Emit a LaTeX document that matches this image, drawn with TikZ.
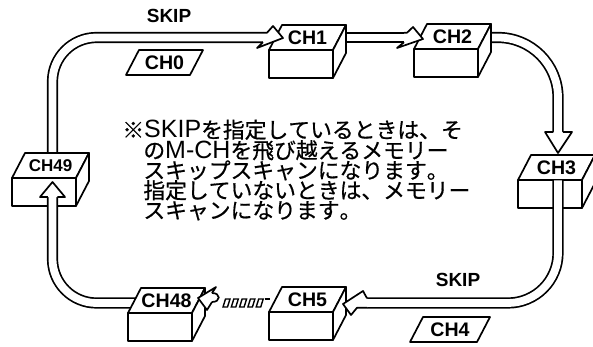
\documentclass[tikz,border=0pt]{standalone}
\usepackage{fontspec}
\newfontfamily\jpfont[FakeBold=0.6,Kerning=Off]{Noto Sans CJK JP}
\newfontfamily\lblfont{Liberation Sans}
\newcommand{\lat}[1]{{\lblfont\fontsize{12.5}{13}\selectfont #1}}

\tikzset{
  track/.style={line width=0.85pt,double=white,double distance=3.9pt},
  boxline/.style={line width=0.85pt,fill=white,line join=round},
  headline/.style={line width=0.85pt,fill=white,line join=round},
  chlabel/.style={font=\lblfont\bfseries\fontsize{9.8}{10}\selectfont,inner sep=0pt},
  skiplabel/.style={font=\lblfont\bfseries\fontsize{9.5}{10}\selectfont,inner sep=0pt},
  notetext/.style={anchor=base west,inner sep=0pt,font=\jpfont\fontsize{10.9}{13}\selectfont},
}

% box seen from the front, #2/#3 = top left corner of the front face
\newcommand{\chbox}[5][]{%
  \begin{scope}[shift={(#2,#3)}]
    \filldraw[boxline] (0,0) rectangle (64,28);
    \filldraw[boxline] (0,0) -- (13,-25) -- (77,-25) -- (64,0) -- cycle;
    \filldraw[boxline] (64,0) -- (77,-25) -- (77,3) -- (64,28) -- cycle;
    \node[chlabel,#1] (#4) at (38.5,-12.5) {#5};
  \end{scope}}

\begin{document}
\begin{tikzpicture}[x=0.5pt,y=-0.5pt]
\useasboundingbox (0,0) rectangle (593,347);

% tracks behind the boxes
\draw[track,rounded corners=22pt] (52.5,155) -- (52.5,37.5) -- (263,37.5);
\draw[track] (320,37.5) -- (404,37.5);
\draw[track,rounded corners=30pt] (460,37.5) -- (558,37.5) -- (558,132);

\chbox{269}{50}{ch1}{CH1}
\chbox{414}{49}{ch2}{CH2}
\chbox{518}{180}{ch3}{CH3}
\chbox[font=\lblfont\bfseries\fontsize{8.5}{9}\selectfont]{12}{178}{ch49}{CH49}

% tracks over CH3 and CH49
\draw[track,rounded corners=25pt] (558,180.5) -- (558,303) -- (367,303);
\draw[track,rounded corners=22pt] (170,303) -- (52.5,303) -- (52.5,197);

\chbox{128}{313}{ch48}{CH48}
\chbox{269}{312}{ch5}{CH5}

% arrow heads
\filldraw[headline] (263,32.75) -- (267,32.75) -- (273,26) -- (283,38) -- (257,48) -- (263,42.25);
\filldraw[headline] (404,32.75) -- (407,32.75) -- (413,27) -- (423,39) -- (397,48) -- (404,42.25);
\filldraw[headline] (553.25,132) -- (545,132) -- (558,153) -- (572,132) -- (562.75,132);
\filldraw[headline] (367,298.25) -- (363,291) -- (343,304) -- (351,315) -- (357,307.75) -- (367,307.75);
\filldraw[headline] (47.75,197) -- (40,197) -- (52.5,182) -- (65,197) -- (57.25,197);

% skipped channels between CH5 and CH48
\foreach \i in {0,...,4}
  \draw[line width=0.7pt] (223+8.3*\i,307) -- (225.5+8.3*\i,299) -- (230+8.3*\i,299) -- (227.5+8.3*\i,307) -- cycle;
\draw[line width=0.7pt] (264.5,299) -- (270,299);
\filldraw[headline] (212,293) -- (216,287) -- (198,298) -- (207,310) -- (212,302);
\draw[line width=0.85pt] (212,293) .. controls (221,293) and (221,302) .. (212,302);

% channels not in the scan
\draw[line width=0.85pt,line join=round] (126,75) -- (139,50) -- (203,50) -- (190,75) -- cycle;
\node[chlabel] (ch0) at (164.5,62.5) {CH0};
\draw[line width=0.85pt,line join=round] (410,342) -- (423,317) -- (490,317) -- (477,342) -- cycle;
\node[chlabel] (ch4) at (450,329.5) {CH4};

\node[skiplabel] (skiptop) at (169,16) {SKIP};
\node[skiplabel] (skipbot) at (458,280) {SKIP};

% note in the middle
\node[notetext] (note1) at (122,138) {※\lat{SKIP}を指定しているときは、そ};
\node[notetext] (note2) at (143,158.5) {の\lat{M-CH}を飛び越えるメモリー};
\node[notetext] (note3) at (143,178.5) {スキップスキャンになります。};
\node[notetext] (note4) at (143,198.5) {指定していないときは、メモリー};
\node[notetext] (note5) at (143,218.5) {スキャンになります。};
\end{tikzpicture}
\end{document}
